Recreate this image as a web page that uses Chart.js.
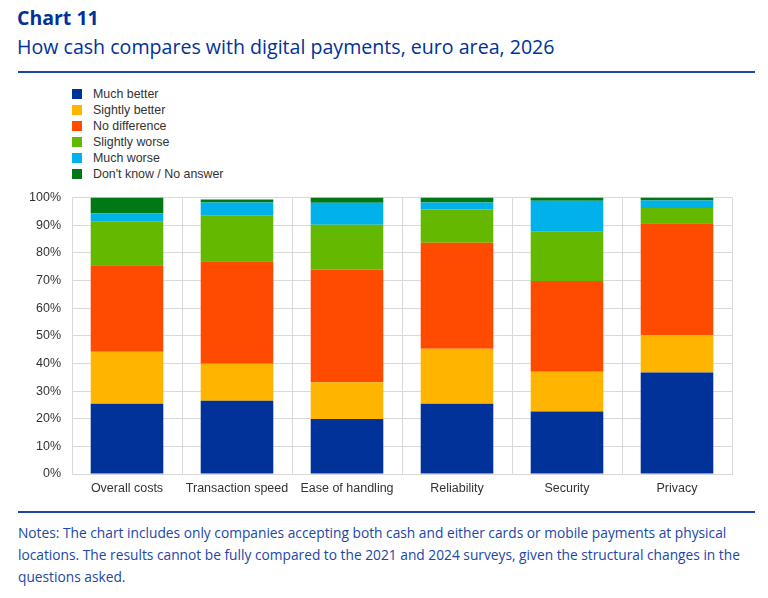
<!DOCTYPE html>
<html lang="en">

<head>
    <meta charset="UTF-8">
    <title>Chart 11 - Cash vs digital payments</title>
    <script src="https://cdn.jsdelivr.net/npm/chart.js@4.4.0/dist/chart.umd.min.js"></script>
    <style>
        body {
            margin: 0;
            width: 768px;
            height: 598px;
            background: #fff;
            position: relative;
            overflow: hidden;
            font-family: "Open Sans", sans-serif;
            color: #003299;
        }

        #title {
            position: absolute;
            left: 17px;
            top: 4px;
            font-size: 19.5px;
            font-weight: bold;
        }

        #subtitle {
            position: absolute;
            left: 17px;
            top: 33px;
            font-size: 19.6px;
        }

        .rule {
            position: absolute;
            left: 18px;
            width: 737px;
            height: 2px;
            background: #1f45a3;
        }

        #legend {
            position: absolute;
            left: 72px;
            top: 86px;
            font-family: "Liberation Sans", Arial, sans-serif;
            font-size: 12.4px;
            color: #333;
        }

        #legend div {
            height: 16px;
            line-height: 16px;
            white-space: nowrap;
        }

        #legend span {
            display: inline-block;
            width: 10px;
            height: 10px;
            margin-right: 11px;
            vertical-align: -1px;
        }

        #chartBox {
            position: absolute;
            left: 0;
            top: 179px;
            width: 768px;
            height: 331px;
        }

        #notes {
            position: absolute;
            left: 18px;
            top: 522px;
            font-size: 13.75px;
            line-height: 22px;
            color: #2047a6;
            white-space: nowrap;
        }
    </style>
</head>

<body>
    <div id="title">Chart 11</div>
    <div id="subtitle">How cash compares with digital payments, euro area, 2026</div>
    <div class="rule" style="top: 71px;"></div>
    <div id="legend"></div>
    <div id="chartBox"><canvas id="cashChart"></canvas></div>
    <div class="rule" style="top: 511px;"></div>
    <div id="notes">Notes: The chart includes only companies accepting both cash and either cards or mobile payments at physical<br>locations. The results cannot be fully compared to the 2021 and 2024 surveys, given the structural changes in the<br>questions asked.</div>

    <script>
        const categories = ['Overall costs', 'Transaction speed', 'Ease of handling', 'Reliability', 'Security', 'Privacy'];

        // shares in percent, one array per answer
        const muchBetter = [25.4, 26.5, 19.9, 25.4, 22.6, 36.7];
        const slightlyBetter = [18.8, 13.4, 13.3, 19.9, 14.4, 13.5];
        const noDifference = [31.3, 37.0, 40.8, 38.3, 32.8, 40.5];
        const slightlyWorse = [15.7, 16.5, 16.1, 12.1, 17.8, 5.5];
        const muchWorse = [3.0, 4.8, 8.0, 2.5, 11.2, 2.7];
        const dontKnow = [5.8, 1.1, 1.9, 1.8, 1.2, 1.1];

        const yTicks = [0, 10, 20, 30, 40, 50, 60, 70, 80, 90, 100];

        const series = [
            { label: 'Much better', data: muchBetter, color: '#003299' },
            { label: 'Sightly better', data: slightlyBetter, color: '#ffb400' },
            { label: 'No difference', data: noDifference, color: '#ff4b00' },
            { label: 'Slightly worse', data: slightlyWorse, color: '#65b800' },
            { label: 'Much worse', data: muchWorse, color: '#00b1ea' },
            { label: "Don't know / No answer", data: dontKnow, color: '#007816' }
        ];

        // legend in one column, like the original
        const legendEl = document.getElementById('legend');
        series.forEach(s => {
            const row = document.createElement('div');
            const box = document.createElement('span');
            box.style.background = s.color;
            row.appendChild(box);
            row.appendChild(document.createTextNode(s.label));
            legendEl.appendChild(row);
        });

        const axisFont = { family: '"Liberation Sans", Arial, sans-serif', size: 12.5 };
        const gridColor = '#d9d9d9';

        new Chart(document.getElementById('cashChart'), {
            type: 'bar',
            data: {
                labels: categories,
                datasets: series.map(s => ({
                    label: s.label,
                    data: s.data,
                    backgroundColor: s.color,
                    borderWidth: 0,
                    barPercentage: 0.66,
                    categoryPercentage: 1
                }))
            },
            options: {
                responsive: true,
                maintainAspectRatio: false,
                animation: false,
                layout: { padding: { top: 7, right: 36, bottom: 0, left: 0 } },
                plugins: {
                    legend: { display: false },
                    tooltip: { enabled: false }
                },
                scales: {
                    x: {
                        stacked: true,
                        grid: { color: gridColor, drawTicks: false },
                        border: { color: gridColor },
                        ticks: { font: axisFont, color: '#333', padding: 7, maxRotation: 0 },
                        afterFit: scale => { scale.height = 36; }
                    },
                    y: {
                        stacked: true,
                        min: 0,
                        max: 100,
                        afterBuildTicks: scale => {
                            scale.ticks = yTicks.map(v => ({ value: v }));
                        },
                        grid: { color: gridColor, drawTicks: false },
                        border: { color: gridColor },
                        ticks: {
                            font: axisFont,
                            color: '#333',
                            padding: 11,
                            callback: v => v + '%'
                        },
                        afterFit: scale => { scale.width = 72; }
                    }
                }
            }
        });
    </script>
</body>

</html>
